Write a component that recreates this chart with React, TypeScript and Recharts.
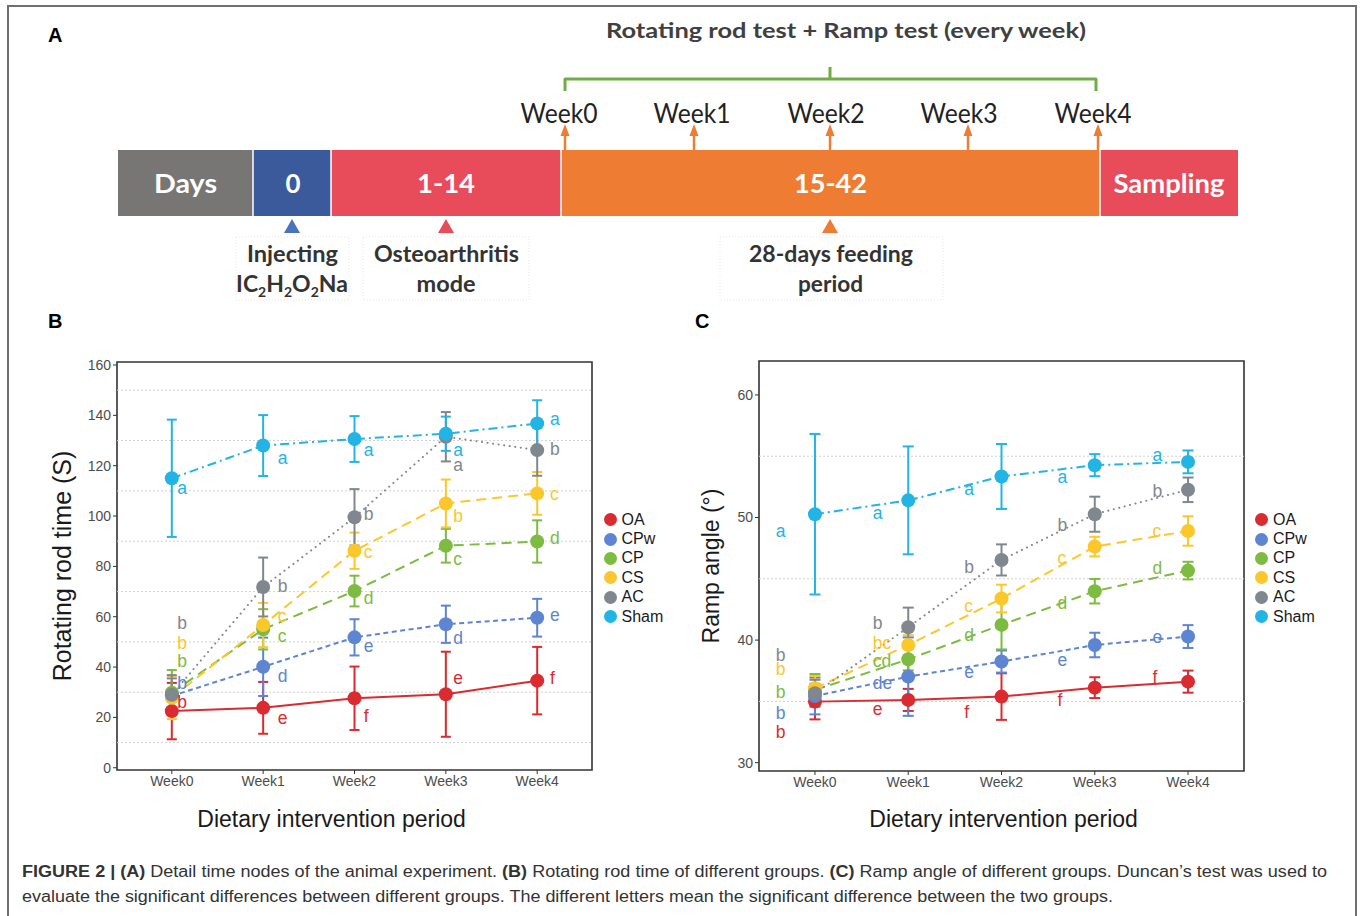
import {
  ComposedChart,
  ErrorBar,
  Line,
  ReferenceArea,
  ReferenceLine,
  Scatter,
  XAxis,
  YAxis,
} from "recharts";

const weeks = ["Week0", "Week1", "Week2", "Week3", "Week4"];
const groups = ["OA", "CPw", "CP", "CS", "AC", "Sham"];

// (B) rotating rod time, mean and error per week
const rodOA = [22.5, 23.8, 27.6, 29.2, 34.6];
const rodOAErr = [11.2, 10.3, 12.6, 16.9, 13.4];
const rodCPw = [28.5, 40.1, 51.8, 57.0, 59.6];
const rodCPwErr = [7.0, 11.6, 7.2, 7.4, 7.5];
const rodCP = [29.8, 55.0, 70.2, 88.2, 89.9];
const rodCPErr = [9.0, 8.0, 6.1, 6.7, 8.4];
const rodCS = [27.8, 56.7, 86.2, 105.0, 109.0];
const rodCSErr = [8.5, 8.8, 7.2, 9.5, 8.5];
const rodAC = [29.0, 71.8, 99.5, 131.5, 126.2];
const rodACErr = [7.8, 11.7, 11.2, 9.8, 10.2];
const rodSham = [115.0, 128.0, 130.6, 132.7, 136.8];
const rodShamErr = [23.3, 12.1, 9.1, 6.8, 9.2];

const rodLetters = [
  ["b", "e", "f", "e", "f"],
  ["b", "d", "e", "d", "e"],
  ["b", "c", "d", "c", "d"],
  ["b", "c", "c", "b", "c"],
  ["b", "b", "b", "a", "b"],
  ["a", "a", "a", "a", "a"],
];
const rodLetterY = [
  [26.1, 19.8, 20.5, 35.6, 35.6],
  [33.7, 36.4, 48.4, 51.5, 60.7],
  [42.4, 52.3, 67.4, 82.9, 91.3],
  [49.5, 60.3, 85.7, 100.0, 108.8],
  [57.5, 72.2, 100.8, 120.2, 126.6],
  [111.1, 123.0, 126.2, 126.2, 138.5],
];
const rodLetterX = [0.06, 1.16, 2.1, 3.08, 4.14];
const rodTicks = [0, 20, 40, 60, 80, 100, 120, 140, 160];
const rodGrid = [10, 30, 50, 70, 90, 110, 130, 150];

// (C) ramp angle, mean and error per week
const rampOA = [34.98, 35.12, 35.39, 36.12, 36.61];
const rampOAErr = [1.45, 0.9, 1.9, 0.85, 0.9];
const rampCPw = [35.44, 37.02, 38.25, 39.6, 40.29];
const rampCPwErr = [1.5, 3.2, 0.9, 1.0, 0.93];
const rampCP = [35.93, 38.43, 41.24, 43.99, 45.67];
const rampCPErr = [1.3, 0.9, 2.0, 1.0, 0.72];
const rampCS = [36.07, 39.6, 43.39, 47.63, 48.9];
const rampCSErr = [1.0, 0.8, 1.13, 0.8, 1.2];
const rampAC = [35.66, 41.05, 46.54, 50.27, 52.26];
const rampACErr = [1.1, 1.6, 1.27, 1.43, 1.0];
const rampSham = [50.27, 51.4, 53.35, 54.27, 54.54];
const rampShamErr = [6.55, 4.4, 2.65, 0.9, 0.93];

const rampLetters = [
  ["b", "e", "f", "f", "f"],
  ["b", "de", "e", "e", "e"],
  ["b", "cd", "d", "d", "d"],
  ["b", "bc", "c", "c", "c"],
  ["b", "b", "b", "b", "b"],
  ["a", "a", "a", "a", "a"],
];
const rampLetterY = [
  [32.53, 34.38, 34.16, 35.12, 36.97],
  [34.08, 36.48, 37.43, 38.38, 40.29],
  [35.75, 38.33, 40.42, 43.06, 45.87],
  [37.62, 39.75, 42.82, 46.69, 48.94],
  [38.79, 41.4, 45.98, 49.41, 52.18],
  [48.91, 50.38, 52.34, 53.27, 55.12],
];
const rampLetterX = [-0.42, 0.62, 1.6, 2.6, 3.62];
const rampTicks = [30, 40, 50, 60];
const rampGrid = [35, 45, 55];

// (A) timeline
const stageLabels = ["Days", "0", "1-14", "15-42", "Sampling"];
const testTitle = "Rotating rod test + Ramp test (every week)";

const colors = ["#d92b30", "#5d85d1", "#7dbb41", "#fcc72a", "#80878e", "#22b4e4"];
const dashes = [undefined, "5 3.5", "10 6", "10 6", "0.1 5.5", "9 4 2 4"];

const FONT = '"Liberation Sans", Arial, sans-serif';
const CAL = 'Lato, "Open Sans", sans-serif';

type ChartProps = {
  means: number[][];
  errs: number[][];
  letters: string[][];
  letterY: number[][];
  letterX: number[];
  domain: [number, number];
  ticks: number[];
  grid: number[];
  left: number;
  width: number;
  margin: { top: number; right: number; bottom: number; left: number };
  cap: number;
};

function GroupChart(p: ChartProps) {
  const rows = weeks.map((_, i) => {
    const r: Record<string, number> = { x: i };
    groups.forEach((g, gi) => {
      r[g] = p.means[gi][i];
      r[g + "Err"] = p.errs[gi][i];
    });
    return r;
  });

  return (
    <div style={{ position: "absolute", left: p.left, top: 330, fontFamily: FONT }}>
      <ComposedChart width={p.width} height={520} data={rows} margin={p.margin}>
        {p.grid.map((v) => (
          <ReferenceLine key={v} y={v} stroke="#d2d2d2" strokeDasharray="2 2" strokeWidth={1} />
        ))}
        <XAxis
          type="number"
          dataKey="x"
          domain={[-0.6, 4.6]}
          ticks={[0, 1, 2, 3, 4]}
          tickFormatter={(v) => weeks[v] ?? ""}
          allowDataOverflow
          interval={0}
          height={30}
          tickSize={4}
          tickMargin={2}
          axisLine={false}
          tickLine={{ stroke: "#333" }}
          tick={{ fontSize: 14, fill: "#4d4d4d", fontFamily: FONT }}
        />
        <YAxis
          type="number"
          dataKey="y"
          domain={p.domain}
          ticks={p.ticks}
          allowDataOverflow
          interval={0}
          width={60}
          tickSize={4}
          tickMargin={2}
          axisLine={false}
          tickLine={{ stroke: "#333" }}
          tick={{ fontSize: 14, fill: "#4d4d4d", fontFamily: FONT }}
        />
        <ReferenceArea
          x1={-0.6}
          x2={4.6}
          y1={p.domain[0]}
          y2={p.domain[1]}
          fill="none"
          stroke="#333"
          strokeWidth={1.6}
        />
        {groups.map((g, gi) => (
          <Line
            key={g}
            dataKey={g}
            type="linear"
            stroke={colors[gi]}
            strokeWidth={2}
            strokeDasharray={dashes[gi]}
            strokeLinecap={g === "AC" ? "round" : "butt"}
            dot={{ r: 7, fill: colors[gi], stroke: "none", strokeDasharray: "0" }}
            activeDot={false}
            isAnimationActive={false}
          >
            <ErrorBar
              dataKey={g + "Err"}
              direction="y"
              width={p.cap}
              stroke={colors[gi]}
              strokeWidth={2}
              isAnimationActive={false}
            />
          </Line>
        ))}
        {groups.map((g, gi) => (
          <Scatter
            key={g + "-letters"}
            data={weeks.map((_, i) => ({
              x: p.letterX[i],
              y: p.letterY[gi][i],
              t: p.letters[gi][i],
            }))}
            dataKey="y"
            isAnimationActive={false}
            shape={(sp: any) => (
              <text
                x={sp.cx}
                y={sp.cy}
                fill={colors[gi]}
                fontSize={17.5}
                fontFamily={FONT}
                dominantBaseline="central"
              >
                {sp.payload?.t}
              </text>
            )}
          />
        ))}
      </ComposedChart>
    </div>
  );
}

function GroupLegend({ cx, textX }: { cx: number; textX: number }) {
  return (
    <div style={{ position: "absolute", left: cx - 6.5, top: 510, fontFamily: FONT }}>
      {groups.map((g, i) => (
        <div key={g} style={{ display: "flex", alignItems: "center", height: 19.4 }}>
          <span
            style={{
              width: 13,
              height: 13,
              borderRadius: "50%",
              background: colors[i],
              marginRight: textX - cx - 6.5,
            }}
          />
          <span style={{ fontSize: 16, color: "#1a1a1a", lineHeight: 1 }}>{g}</span>
        </div>
      ))}
    </div>
  );
}

function AxisTitle({
  x,
  y,
  size,
  rotate,
  children,
}: {
  x: number;
  y: number;
  size: number;
  rotate?: boolean;
  children: React.ReactNode;
}) {
  return (
    <div
      style={{
        position: "absolute",
        left: x,
        top: y,
        transform: `translate(-50%, -50%)${rotate ? " rotate(-90deg)" : ""}`,
        fontSize: size,
        lineHeight: 1,
        whiteSpace: "nowrap",
        color: "#1a1a1a",
        fontFamily: FONT,
      }}
    >
      {children}
    </div>
  );
}

function Timeline() {
  const edges = [118, 253, 331, 561, 1100, 1238];
  const fills = ["#787674", "#3a5a9b", "#e84c5b", "#ee7d33", "#e84c5b"];
  const textX = [185.5, 293, 446, 830.5, 1169];
  const textW = [63, 15, 58, 73, 111];
  const arrowX = [565, 694, 830, 968, 1098];
  const weekX = [559, 692, 826, 959, 1093];
  const orange = "#ee7d33";
  return (
    <svg width={1360} height={310} style={{ position: "absolute", left: 0, top: 0 }}>
      <text x={48} y={41.5} fontSize={20} fontWeight="bold" fontFamily={FONT}>
        A
      </text>
      <text
        x={846}
        y={37.5}
        textAnchor="middle"
        fontFamily={CAL}
        fontWeight={700}
        fontSize={21}
        fill="#404040"
        textLength={480}
        lengthAdjust="spacingAndGlyphs"
      >
        {testTitle}
      </text>
      <path
        d="M565 91 V79 H1096 V91 M830 79 V67"
        stroke="#70ad47"
        strokeWidth={3}
        fill="none"
        strokeLinejoin="round"
      />
      {weeks.map((w, i) => (
        <text
          key={w}
          x={weekX[i]}
          y={123}
          textAnchor="middle"
          fontFamily={CAL}
          fontSize={26}
          fill="#222"
          textLength={77}
          lengthAdjust="spacingAndGlyphs"
        >
          {w}
        </text>
      ))}
      {arrowX.map((x) => (
        <g key={x}>
          <line x1={x} y1={150} x2={x} y2={134} stroke={orange} strokeWidth={2.5} />
          <polygon points={`${x - 4.5},136 ${x + 4.5},136 ${x},124`} fill={orange} />
        </g>
      ))}
      {stageLabels.map((s, i) => (
        <g key={s}>
          <rect x={edges[i]} y={150} width={edges[i + 1] - edges[i]} height={66} fill={fills[i]} />
          <text
            x={textX[i]}
            y={193}
            textAnchor="middle"
            fontFamily={CAL}
            fontWeight={700}
            fontSize={26}
            fill="#fff"
            textLength={textW[i]}
            lengthAdjust="spacingAndGlyphs"
          >
            {s}
          </text>
        </g>
      ))}
      {edges.slice(1, 5).map((x) => (
        <line key={x} x1={x} y1={150} x2={x} y2={216} stroke="#fff" strokeWidth={1.5} />
      ))}
      <polygon points="292,219 284,233 300,233" fill="#4a72c0" />
      <polygon points="446,219 438,233 454,233" fill="#e84c5b" />
      <polygon points="830,219 822,233 838,233" fill={orange} />
      <g fill="none" stroke="#e6e6e6" strokeDasharray="1 2">
        <rect x={236} y={237} width={113} height={63} />
        <rect x={363} y={237} width={166} height={63} />
        <rect x={720} y={237} width={223} height={63} />
      </g>
      <g fontFamily={CAL} fontWeight={700} fontSize={23} fill="#333" textAnchor="middle">
        <text x={292.5} y={262} textLength={91} lengthAdjust="spacingAndGlyphs">
          Injecting
        </text>
        <text x={292} y={292}>
          IC<tspan fontSize={14} dy={5}>2</tspan>
          <tspan dy={-5}>H</tspan>
          <tspan fontSize={14} dy={5}>2</tspan>
          <tspan dy={-5}>O</tspan>
          <tspan fontSize={14} dy={5}>2</tspan>
          <tspan dy={-5}>Na</tspan>
        </text>
        <text x={446.5} y={262} textLength={145} lengthAdjust="spacingAndGlyphs">
          Osteoarthritis
        </text>
        <text x={446} y={292} textLength={59} lengthAdjust="spacingAndGlyphs">
          mode
        </text>
        <text x={831} y={262} textLength={164} lengthAdjust="spacingAndGlyphs">
          28-days feeding
        </text>
        <text x={830.5} y={292} textLength={65} lengthAdjust="spacingAndGlyphs">
          period
        </text>
      </g>
    </svg>
  );
}

function Caption() {
  return (
    <svg width={1360} height={61} style={{ position: "absolute", left: 0, top: 855 }}>
      <g fontFamily={FONT} fontSize={16} fill="#333">
        <text x={22} y={22} textLength={1305} lengthAdjust="spacingAndGlyphs">
          <tspan fontWeight="bold">FIGURE 2 | (A)</tspan>
          {" Detail time nodes of the animal experiment. "}
          <tspan fontWeight="bold">(B)</tspan>
          {" Rotating rod time of different groups. "}
          <tspan fontWeight="bold">(C)</tspan>
          {" Ramp angle of different groups. Duncan\u2019s test was used to"}
        </text>
        <text x={22} y={47} textLength={1091} lengthAdjust="spacingAndGlyphs">
          evaluate the significant differences between different groups. The different letters mean the
          significant difference between the two groups.
        </text>
      </g>
    </svg>
  );
}

export default function App() {
  return (
    <div
      style={{
        position: "absolute",
        left: 0,
        top: 0,
        width: 1360,
        height: 916,
        overflow: "hidden",
        background: "#fff",
        fontFamily: FONT,
      }}
    >
      <div
        style={{
          position: "absolute",
          left: 7,
          top: 5,
          width: 1350,
          height: 960,
          border: "2px solid #707070",
          boxSizing: "border-box",
        }}
      />
      <Timeline />

      <div style={{ position: "absolute", left: 48, top: 311, fontSize: 20, fontWeight: "bold", lineHeight: 1 }}>B</div>
      <div style={{ position: "absolute", left: 695, top: 311, fontSize: 20, fontWeight: "bold", lineHeight: 1 }}>C</div>

      <GroupChart
        means={[rodOA, rodCPw, rodCP, rodCS, rodAC, rodSham]}
        errs={[rodOAErr, rodCPwErr, rodCPErr, rodCSErr, rodACErr, rodShamErr]}
        letters={rodLetters}
        letterY={rodLetterY}
        letterX={rodLetterX}
        domain={[-0.9, 161.2]}
        ticks={rodTicks}
        grid={rodGrid}
        left={0}
        width={600}
        margin={{ top: 32, right: 8, bottom: 50, left: 57 }}
        cap={5}
      />
      <GroupLegend cx={610.7} textX={621.5} />
      <AxisTitle x={62} y={566} size={25} rotate>
        Rotating rod time (S)
      </AxisTitle>
      <AxisTitle x={331.6} y={819} size={23}>
        Dietary intervention period
      </AxisTitle>

      <GroupChart
        means={[rampOA, rampCPw, rampCP, rampCS, rampAC, rampSham]}
        errs={[rampOAErr, rampCPwErr, rampCPErr, rampCSErr, rampACErr, rampShamErr]}
        letters={rampLetters}
        letterY={rampLetterY}
        letterX={rampLetterX}
        domain={[29.32, 62.77]}
        ticks={rampTicks}
        grid={rampGrid}
        left={680}
        width={580}
        margin={{ top: 31, right: 16, bottom: 49, left: 19 }}
        cap={5.5}
      />
      <GroupLegend cx={1261} textX={1273} />
      <AxisTitle x={711} y={566} size={23} rotate>
        Ramp angle (°)
      </AxisTitle>
      <AxisTitle x={1003.6} y={819} size={23}>
        Dietary intervention period
      </AxisTitle>

      <Caption />
    </div>
  );
}
